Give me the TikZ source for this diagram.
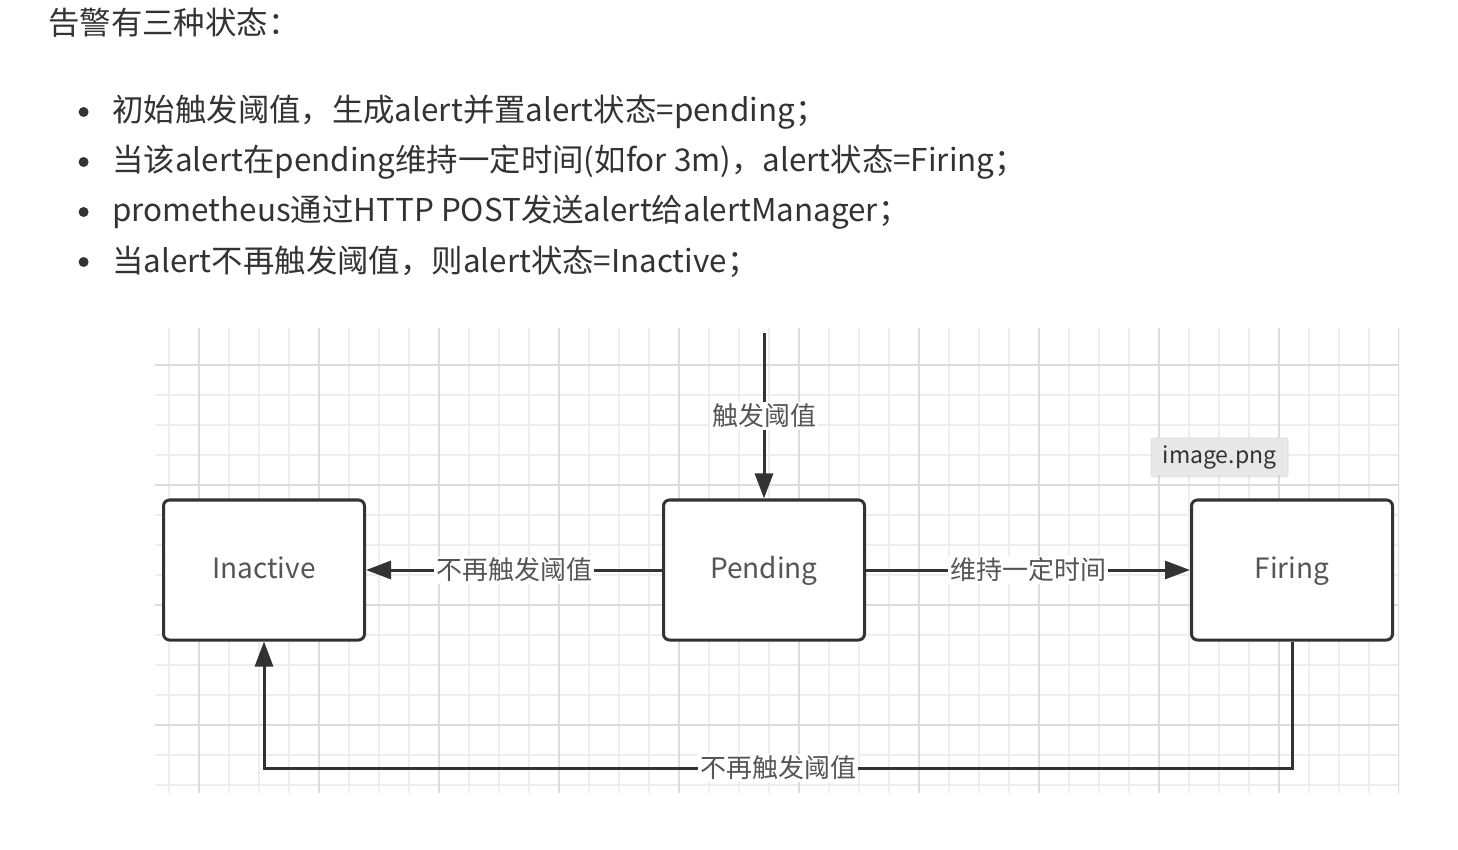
\documentclass[tikz,border=0pt]{standalone}
\usepackage{fontspec}
\setmainfont{Noto Sans CJK SC}
\usetikzlibrary{arrows.meta,
                positioning,
                shadows}
\definecolor{textdark}{HTML}{333333}
\definecolor{linedark}{HTML}{333333}
\definecolor{labelgrey}{HTML}{555555}
\definecolor{gridminor}{HTML}{EEEEEE}
\definecolor{gridmajor}{HTML}{DCDCDC}
\definecolor{tipgrey}{HTML}{E8E8E8}
\tikzset{state/.style=
   {rectangle,
    draw=linedark,
    line width=1.5pt,
    rounded corners=3pt,
    fill=white,
    text=labelgrey,
    text centered,
    text height=11pt,
    text depth=3pt,
    font=\fontsize{14}{16}\selectfont,
    minimum width=100.5pt,
    minimum height=70pt}}
\tikzset{item/.style =
   {inner sep=0pt,
    text=textdark,
    font=\fontsize{15.7}{18}\selectfont}}
\tikzset{dot/.style =
   {circle,
    fill=textdark,
    inner sep=0pt,
    minimum size=5pt}}
\tikzset{edge-label/.style =
   {fill=white,
    inner sep=1pt,
    text=labelgrey,
    font=\fontsize{13}{15}\selectfont}}
\tikzset{tooltip/.style =
   {rectangle,
    draw=gridmajor,
    line width=0.3pt,
    fill=tipgrey,
    rounded corners=1pt,
    text=textdark,
    drop shadow={opacity=0.12, shadow xshift=0pt, shadow yshift=-1pt},
    font=\fontsize{11.5}{13}\selectfont,
    minimum width=68.5pt,
    minimum height=19pt}}
\tikzset{gridline/.style = {draw=gridminor, line width=0.6pt}}
\tikzset{gridline-major/.style = {draw=gridmajor, line width=0.6pt}}
\tikzset{arrow/.style = {draw=linedark, line width=1.5pt, -{Triangle[length=12.5pt, width=9pt]}}}

\begin{document}
\begin{tikzpicture}[x=0.5pt, y=-0.5pt, node distance=25pt]

    \useasboundingbox (0,0) rectangle (1458,850);

    % text above the picture
    \node [item, anchor=west] (title) at (48,23) {告警有三种状态：};

    \node [item, anchor=west] (item1) at (112,112)
    {初始触发阈值，生成alert并置alert状态=pending；};

    \node [item,
           below = of item1.west,
           anchor=west] (item2)
    {当该alert在pending维持一定时间(如for 3m)，alert状态=Firing；};

    \node [item,
           below = of item2.west,
           anchor=west] (item3)
    {prometheus通过HTTP POST发送alert给alertManager；};

    \node [item,
           below = of item3.west,
           anchor=west] (item4)
    {当alert不再触发阈值，则alert状态=Inactive；};

    \foreach \i in {1,...,4}
        \node [dot, left = 11.5pt of item\i] (dot\i) {};

    % grid paper
    \begin{scope}
        \clip (155,328) rectangle (1399,793);
        \foreach \gx in {169,199,...,1399}
            \draw [gridline] (\gx,328) -- (\gx,793);
        \foreach \gy in {365,395,...,793}
            \draw [gridline] (155,\gy) -- (1399,\gy);
        \foreach \gx in {199,319,...,1399}
            \draw [gridline-major] (\gx,328) -- (\gx,793);
        \foreach \gy in {365,485,...,793}
            \draw [gridline-major] (155,\gy) -- (1399,\gy);
    \end{scope}

    % states
    \node [state] (pending) at (764,570) {Pending};

    \node [state,
           left = 148pt of pending] (inactive) {Inactive};

    \node [state,
           right = 162pt of pending] (firing) {Firing};

    \coordinate (entry) at (764,333);
    \coordinate (floor) at (0,768);

    \draw [arrow] (entry) -- node [edge-label] {触发阈值} (pending);
    \draw [arrow] (pending) -- node [edge-label] {不再触发阈值} (inactive);
    \draw [arrow] (pending) -- node [edge-label] {维持一定时间} (firing);
    \draw [arrow] (firing.south)
        -- (firing.south |- floor)
        -- node [edge-label] {不再触发阈值} (inactive.south |- floor)
        -- (inactive.south);

    \node [tooltip] (tip) at (1219.5,457) {image.png};

\end{tikzpicture}
\end{document}
